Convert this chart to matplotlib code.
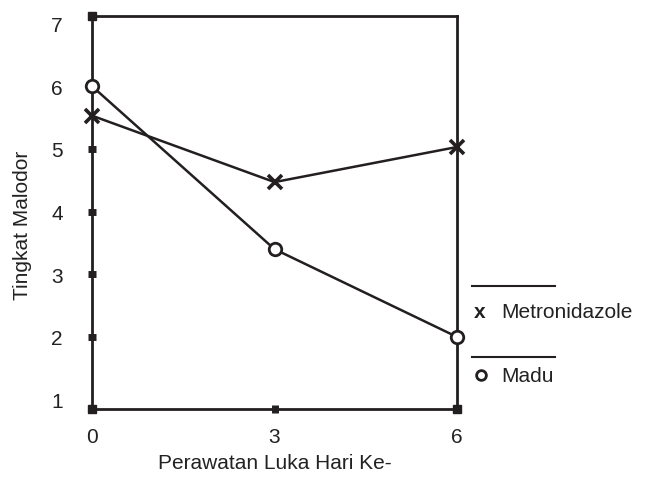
import matplotlib
matplotlib.use("Agg")
import matplotlib.pyplot as plt
from matplotlib.lines import Line2D

plt.rcParams['font.family'] = ['Liberation Sans', 'DejaVu Sans']

days = [0, 3, 6]
metronidazole = [5.53, 4.47, 5.03]
madu = [6.0, 3.40, 2.0]
xticks = [0, 3, 6]
yticks = [1, 2, 3, 4, 5, 6, 7]
xlabel = "Perawatan Luka Hari Ke-"
ylabel = "Tingkat Malodor"
legend_labels = ["Metronidazole", "Madu"]

C = '#231f20'
T = '#222222'
FS = 15
fig = plt.figure(figsize=(6.5, 4.85), dpi=100)
ax = fig.add_axes([92/650, 75/485, (457-92)/650, (410-17)/485])

ax.plot(days, metronidazole, color=C, lw=1.8, marker='x', ms=10, mew=2.6, clip_on=False, zorder=5)
ax.plot(days, madu, color=C, lw=1.8, marker='o', ms=9, mew=2.0, mfc='white', clip_on=False, zorder=5)

ax.set_xlim(0, 6)
ax.set_ylim(0.85, 7.12)
ax.set_xticks(xticks)
ax.set_yticks(yticks)
ax.set_xticklabels([str(t) for t in xticks], fontsize=FS, color=T)
ax.set_yticklabels([str(t) for t in yticks], fontsize=FS, color=T)
ax.tick_params(axis='both', direction='inout', length=6, width=5, color=C)
ax.tick_params(axis='x', pad=10)
ax.tick_params(axis='y', pad=18)
yt = ax.yaxis.get_major_ticks()
for t in (yt[0], yt[-1]):
    t.tick1line.set_visible(False)
for s in ax.spines.values():
    s.set_color(C)
    s.set_linewidth(2)

# corner squares
for (cx, cy) in [(0, 0.85), (0, 7.12), (6, 0.85)]:
    ax.plot([cx], [cy], marker='s', ms=6, color=C, clip_on=False, zorder=6)

ax.set_xlabel(xlabel, fontsize=FS, color=T, labelpad=5)
ax.set_ylabel(ylabel, fontsize=FS, color=T)
ax.yaxis.set_label_coords(-0.165, 0.47)

# custom legend
def fx(px): return px/650
def fy(py): return 1 - py/485
fig.add_artist(Line2D([fx(472), fx(555)], [fy(287), fy(287)], color=C, lw=1.5))
fig.add_artist(Line2D([fx(472), fx(555)], [fy(358), fy(358)], color=C, lw=1.5))
fig.text(fx(480), fy(313), 'x', fontsize=FS, fontweight='bold', color=C, ha='center', va='center')
fig.text(fx(501), fy(313), legend_labels[0], fontsize=FS, color=T, ha='left', va='center')
fig.add_artist(Line2D([fx(481)], [fy(376)], marker='o', ms=7, mew=2, mfc='white', color=C, lw=0))
fig.text(fx(501), fy(376), legend_labels[1], fontsize=FS, color=T, ha='left', va='center')

fig.savefig('out.png', dpi=100)
